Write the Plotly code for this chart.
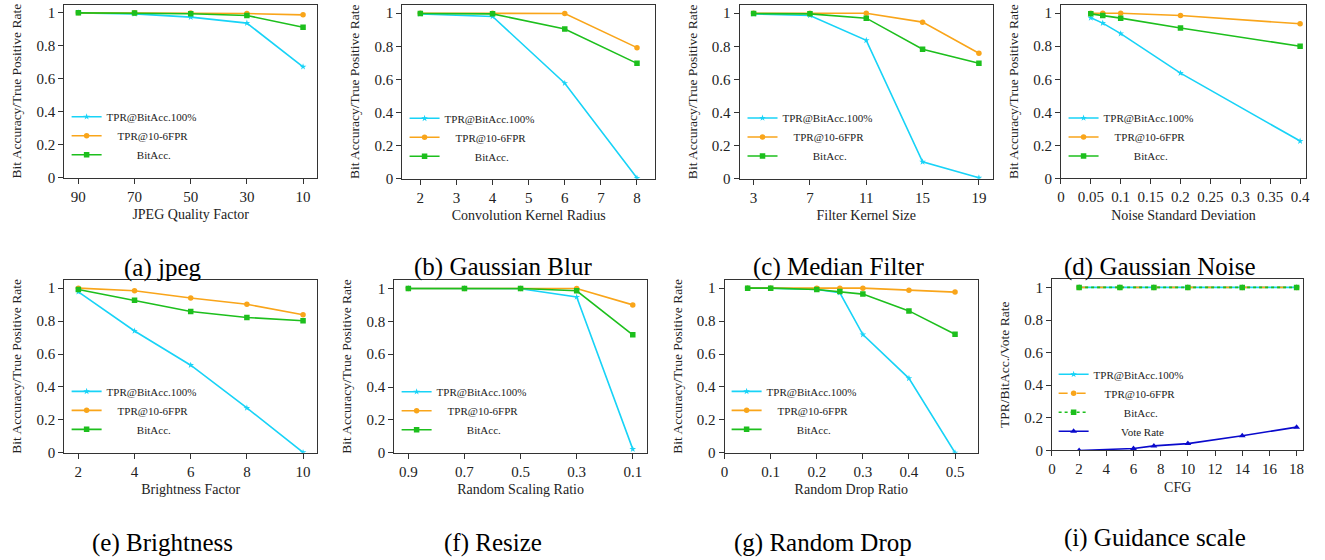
import plotly.graph_objects as go

W, H = 1325, 560

# ---------------- data ----------------
series_names = ["TPR@BitAcc.100%", "TPR@10-6FPR", "BitAcc."]
vote_name = "Vote Rate"

jpeg_x = [90, 70, 50, 30, 10]
jpeg_tpr100 = [1.0, 0.994, 0.974, 0.938, 0.673]
jpeg_tprfpr = [1.0, 1.0, 0.999, 0.996, 0.988]
jpeg_bitacc = [1.0, 0.999, 0.995, 0.984, 0.913]

blur_x = [2, 4, 6, 8]
blur_tpr100 = [0.996, 0.980, 0.577, 0.004]
blur_tprfpr = [1.0, 1.0, 0.998, 0.792]
blur_bitacc = [0.998, 0.996, 0.904, 0.697]

median_x = [3, 7, 11, 15, 19]
median_tpr100 = [0.996, 0.986, 0.836, 0.102, 0.006]
median_tprfpr = [1.0, 1.0, 1.0, 0.946, 0.758]
median_bitacc = [0.998, 0.996, 0.970, 0.782, 0.697]

noise_x = [0.05, 0.07, 0.1, 0.2, 0.4]
noise_tpr100 = [0.972, 0.940, 0.876, 0.637, 0.226]
noise_tprfpr = [1.0, 1.0, 1.0, 0.986, 0.936]
noise_bitacc = [0.996, 0.986, 0.970, 0.910, 0.800]

bright_x = [2, 4, 6, 8, 10]
bright_tpr100 = [0.978, 0.740, 0.532, 0.272, 0.002]
bright_tprfpr = [1.0, 0.984, 0.940, 0.902, 0.838]
bright_bitacc = [0.992, 0.926, 0.858, 0.822, 0.802]

resize_x = [0.9, 0.7, 0.5, 0.3, 0.1]
resize_tpr100 = [1.0, 1.0, 0.998, 0.948, 0.022]
resize_tprfpr = [1.0, 1.0, 1.0, 1.0, 0.900]
resize_bitacc = [1.0, 1.0, 1.0, 0.986, 0.718]

drop_x = [0.05, 0.1, 0.2, 0.25, 0.3, 0.4, 0.5]
drop_tpr100 = [1.0, 1.0, 0.992, 0.972, 0.718, 0.452, 0.0]
drop_tprfpr = [1.0, 1.0, 1.0, 1.0, 1.0, 0.988, 0.976]
drop_bitacc = [1.0, 1.0, 0.992, 0.980, 0.964, 0.862, 0.720]

cfg_x = [2, 5, 7.5, 10, 14, 18]
cfg_tpr100 = [1.0, 1.0, 1.0, 1.0, 1.0, 1.0]
cfg_tprfpr = [1.0, 1.0, 1.0, 1.0, 1.0, 1.0]
cfg_bitacc = [1.0, 1.0, 1.0, 1.0, 1.0, 1.0]
vote_x = [2, 6, 7.5, 10, 14, 18]
vote_rate = [0.0, 0.012, 0.028, 0.042, 0.090, 0.143]

captions = ["(a) jpeg", "(b) Gaussian Blur", "(c) Median Filter", "(d) Gaussian Noise",
            "(e) Brightness", "(f) Resize", "(g) Random Drop", "(i) Guidance scale"]
x_titles = ["JPEG Quality Factor", "Convolution Kernel Radius", "Filter Kernel Size",
            "Noise Standard Deviation", "Brightness Factor", "Random Scaling Ratio",
            "Random Drop Ratio", "CFG"]
y_title = "Bit Accuracy/True Positive Rate"
y_title_cfg = "TPR/BitAcc./Vote Rate"
y_ticks = [0, 0.2, 0.4, 0.6, 0.8, 1]
y_ticktext = ["0", "0.2", "0.4", "0.6", "0.8", "1"]

# ---------------- style ----------------
C_CYAN = "#18D3F7"
C_ORANGE = "#F9A51A"
C_GREEN = "#1DBF1D"
C_BLUE = "#0A0ACC"
FONT = "'Liberation Serif', 'Times New Roman', 'DejaVu Serif', serif"
NB = "\u00a0"
legend_labels = [series_names[0], NB * 4 + series_names[1], NB * 11 + series_names[2]]
legend_labels_cfg = [series_names[0], NB * 4 + series_names[1], NB * 11 + series_names[2],
                     NB * 10 + vote_name]

# panel layout in pixels: (left, right, top, bottom)
panels = [
    dict(data=(jpeg_x, jpeg_tpr100, jpeg_tprfpr, jpeg_bitacc), box=(60.7, 315, 4.7, 180.3),
         xr=[95, 5], xt=jpeg_x, xtt=None, leg=(75, 120.7), cap=(160, 272)),
    dict(data=(blur_x, blur_tpr100, blur_tprfpr, blur_bitacc), box=(400.7, 655, 5, 181.3),
         xr=[1.5, 8.5], xt=[2, 3, 4, 5, 6, 7, 8], xtt=None, leg=(415, 122.3), cap=(502, 271)),
    dict(data=(median_x, median_tpr100, median_tprfpr, median_bitacc), box=(740, 995, 5, 181.3),
         xr=[2, 20], xt=median_x, xtt=None, leg=(755, 122), cap=(840, 271)),
    dict(data=(noise_x, noise_tpr100, noise_tprfpr, noise_bitacc), box=(1063.3, 1310, 5, 181),
         xr=[0, 0.41], xt=[0, 0.05, 0.1, 0.15, 0.2, 0.25, 0.3, 0.35, 0.4],
         xtt=["0", "0.05", "0.1", "0.15", "0.2", "0.25", "0.3", "0.35", "0.4"],
         leg=(1078, 122), cap=(1163, 271)),
    dict(data=(bright_x, bright_tpr100, bright_tprfpr, bright_bitacc), box=(60.7, 315, 284, 459.3),
         xr=[1.5, 10.5], xt=bright_x, xtt=None, leg=(75, 399.3), cap=(159, 551)),
    dict(data=(resize_x, resize_tpr100, resize_tprfpr, resize_bitacc), box=(392.7, 646.7, 284.3, 459.3),
         xr=[0.95, 0.05], xt=resize_x, xtt=None, leg=(407, 399.7), cap=(492, 551)),
    dict(data=(drop_x, drop_tpr100, drop_tprfpr, drop_bitacc), box=(725, 980, 284, 459.3),
         xr=[0, 0.55], xt=[0, 0.1, 0.2, 0.3, 0.4, 0.5], xtt=["0", "0.1", "0.2", "0.3", "0.4", "0.5"],
         leg=(739, 399.3), cap=(824, 551)),
    dict(data=(cfg_x, cfg_tpr100, cfg_tprfpr, cfg_bitacc), box=(1054.3, 1307.3, 283.3, 457),
         xr=[0, 18.5], xt=[0, 2, 4, 6, 8, 10, 12, 14, 16, 18], xtt=None, leg=(1068, 382), cap=(1158, 546)),
]

fig = go.Figure()
layout = dict(
    width=W, height=H, margin=dict(l=0, r=0, t=0, b=0),
    paper_bgcolor="white", plot_bgcolor="white",
    font=dict(family=FONT, size=14, color="black"),
    showlegend=True, annotations=[],
)

for i, p in enumerate(panels):
    n = i + 1
    xa = "x" if n == 1 else f"x{n}"
    ya = "y" if n == 1 else f"y{n}"
    lg = "legend" if n == 1 else f"legend{n}"
    xs, s1, s2, s3 = p["data"]
    is_cfg = (i == 7)
    labels = legend_labels_cfg if is_cfg else legend_labels
    fig.add_trace(go.Scatter(x=xs, y=s1, name=labels[0], mode="lines+markers", xaxis=xa, yaxis=ya,
                             legend=lg, line=dict(color=C_CYAN, width=1.6),
                             marker=dict(symbol="star", size=5, color=C_CYAN)))
    fig.add_trace(go.Scatter(x=xs, y=s2, name=labels[1], mode="lines+markers", xaxis=xa, yaxis=ya,
                             legend=lg, line=dict(color=C_ORANGE, width=1.6, dash="dash" if is_cfg else "solid"),
                             marker=dict(symbol="circle", size=5.5, color=C_ORANGE)))
    fig.add_trace(go.Scatter(x=xs, y=s3, name=labels[2], mode="lines+markers", xaxis=xa, yaxis=ya,
                             legend=lg, line=dict(color=C_GREEN, width=1.6, dash="dot" if is_cfg else "solid"),
                             marker=dict(symbol="square", size=5.5, color=C_GREEN)))
    if is_cfg:
        fig.add_trace(go.Scatter(x=vote_x, y=vote_rate, name=labels[3], mode="lines+markers",
                                 xaxis=xa, yaxis=ya, legend=lg,
                                 line=dict(color=C_BLUE, width=1.6),
                                 marker=dict(symbol="triangle-up", size=6, color=C_BLUE)))

    l, r, t, b = p["box"]
    axis_common = dict(showgrid=False, zeroline=False, showline=True, linecolor="#333333", linewidth=1,
                       mirror=True, ticks="outside", ticklen=5, tickcolor="#333333", tickwidth=1,
                       tickfont=dict(family=FONT, size=15, color="#222222"))
    layout["xaxis" if n == 1 else f"xaxis{n}"] = dict(
        axis_common, domain=[l / W, r / W], range=p["xr"], anchor=ya,
        tickmode="array", tickvals=p["xt"], ticktext=p["xtt"] if p["xtt"] else [str(v) for v in p["xt"]],
        title=dict(text=x_titles[i], font=dict(family=FONT, size=14, color="#222222"), standoff=5))
    layout["yaxis" if n == 1 else f"yaxis{n}"] = dict(
        axis_common, domain=[1 - b / H, 1 - t / H], range=[0, 1.05], anchor=xa,
        tickmode="array", tickvals=y_ticks, ticktext=y_ticktext,
        title=dict(text=y_title_cfg if is_cfg else y_title, font=dict(family=FONT, size=13.5, color="#222222"),
                   standoff=11))
    lx, ly = p["leg"]
    layout[lg] = dict(x=(lx - 12) / W, y=1 - (ly - 17) / H, xanchor="left", yanchor="top",
                      bgcolor="rgba(0,0,0,0)", borderwidth=0, tracegroupgap=0, itemwidth=30,
                      font=dict(family=FONT, size=11, color="#222222"), traceorder="normal")
    cx, cy = p["cap"]
    layout["annotations"].append(dict(text=captions[i], x=cx / W, y=1 - cy / H, xref="paper", yref="paper",
                                      xanchor="center", yanchor="middle", showarrow=False,
                                      font=dict(family=FONT, size=25, color="black")))

fig.update_layout(**layout)
fig.write_html("out.html", config={"displayModeBar": False},
               post_script="document.body.style.margin='0';document.body.style.padding='0';")
